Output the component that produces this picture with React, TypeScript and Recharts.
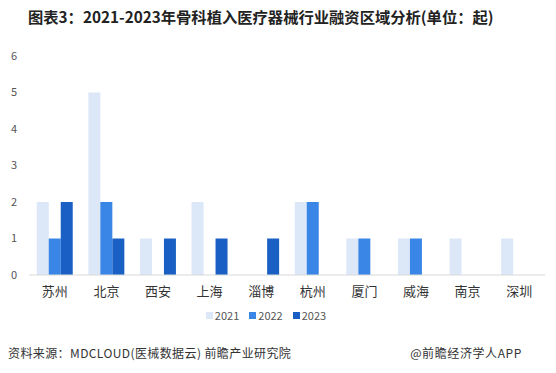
import React from 'react';
import { BarChart, Bar, XAxis, YAxis, Legend } from 'recharts';

const cities = ['苏州', '北京', '西安', '上海', '淄博', '杭州', '厦门', '威海', '南京', '深圳'];
const y2021 = [2, 5, 1, 2, 0, 2, 1, 1, 1, 1];
const y2022 = [1, 2, 0, 0, 0, 2, 1, 1, 0, 0];
const y2023 = [2, 1, 1, 1, 1, 0, 0, 0, 0, 0];
const yTicks = [0, 1, 2, 3, 4, 5, 6];

const data = cities.map((city, i) => ({
  city,
  '2021': y2021[i],
  '2022': y2022[i],
  '2023': y2023[i]
}));

const font = '"Noto Sans CJK SC", "Noto Sans", sans-serif';

const renderLegend = (props: any) => {
  const items = props.payload || [];
  return <div style={{
    display: 'flex',
    justifyContent: 'center',
    gap: 10,
    fontSize: 11,
    color: '#555',
    fontFamily: font
  }}>
      {items.map((it: any) => <div key={it.value} style={{
      display: 'flex',
      alignItems: 'center'
    }}>
          <span style={{
        width: 7,
        height: 7,
        background: it.color,
        marginRight: 2,
        display: 'inline-block'
      }} />
          <span>{it.value}</span>
        </div>)}
    </div>;
};

const App: React.FC = () => {
  return <div style={{
    position: 'absolute',
    left: 0,
    top: 0,
    width: 556,
    height: 373,
    background: '#fff',
    fontFamily: font
  }}>
      <div style={{
      position: 'absolute',
      left: 28,
      top: 5,
      fontSize: 15.3,
      fontWeight: 'bold',
      color: '#222',
      whiteSpace: 'nowrap'
    }}>
        图表3：2021-2023年骨科植入医疗器械行业融资区域分析(单位：起)
      </div>
      <BarChart width={556} height={373} data={data} barGap={0} barCategoryGap="15%" margin={{
      top: 56,
      right: 11,
      left: 0,
      bottom: 52
    }}>
        <XAxis dataKey="city" tickLine={false} axisLine={{
        stroke: '#d9d9d9'
      }} tick={{
        fontSize: 13,
        fill: '#333',
        fontFamily: font
      }} tickMargin={6} height={30} />
        <YAxis domain={[0, 6]} ticks={yTicks} width={29} tickLine={false} axisLine={false} tickSize={0} tickMargin={12} tick={{
        fontSize: 11,
        fill: '#555',
        fontFamily: font
      }} />
        <Legend content={renderLegend} wrapperStyle={{
        position: 'absolute',
        top: 307,
        left: -12,
        width: 556
      }} />
        <Bar dataKey="2021" fill="#dce7f8" isAnimationActive={false} />
        <Bar dataKey="2022" fill="#3a86e6" isAnimationActive={false} />
        <Bar dataKey="2023" fill="#1a60c4" isAnimationActive={false} />
      </BarChart>
      <div style={{
      position: 'absolute',
      left: 8,
      top: 344,
      fontSize: 12,
      color: '#333',
      letterSpacing: 0.4,
      whiteSpace: 'nowrap'
    }}>
        资料来源：MDCLOUD(医械数据云) 前瞻产业研究院
      </div>
      <div style={{
      position: 'absolute',
      right: 34,
      top: 344,
      fontSize: 12,
      color: '#333',
      letterSpacing: 0.6,
      whiteSpace: 'nowrap'
    }}>
        @前瞻经济学人APP
      </div>
    </div>;
};

export default App;
